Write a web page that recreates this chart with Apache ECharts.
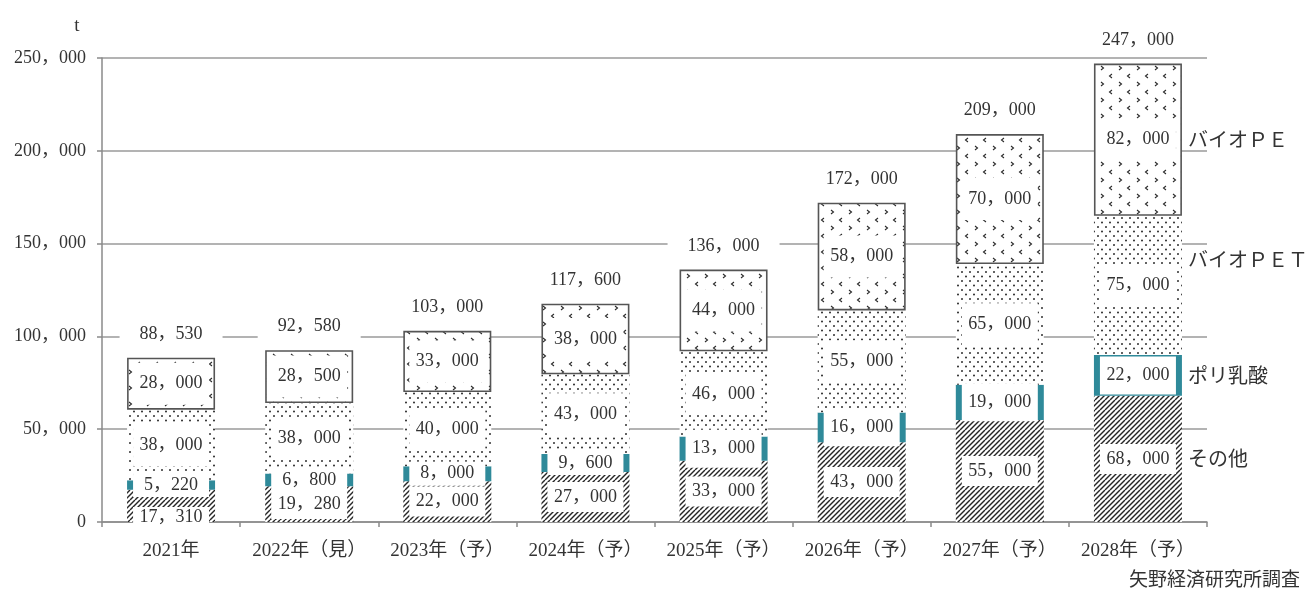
<!DOCTYPE html>
<html>
<head>
<meta charset="utf-8">
<script src="https://cdn.jsdelivr.net/npm/echarts@6/dist/echarts.min.js"></script>
<style>
  html, body { margin: 0; padding: 0; background: #fff; }
  #chart { width: 1309px; height: 594px; }
</style>
</head>
<body>
<div id="chart"></div>
<script>
// Bioplastics volume by type (t)
const categories = ['2021年', '2022年（見）', '2023年（予）', '2024年（予）', '2025年（予）', '2026年（予）', '2027年（予）', '2028年（予）'];
const otherVals = [17310, 19280, 22000, 27000, 33000, 43000, 55000, 68000];
const plaVals   = [5220, 6800, 8000, 9600, 13000, 16000, 19000, 22000];
const petVals   = [38000, 38000, 40000, 43000, 46000, 55000, 65000, 75000];
const peVals    = [28000, 28500, 33000, 38000, 44000, 58000, 70000, 82000];
const seriesNames = ['その他', 'ポリ乳酸', 'バイオＰＥＴ', 'バイオＰＥ'];
const unitLabel = 't';
const sourceText = '矢野経済研究所調査';

const totals = categories.map((_, i) => otherVals[i] + plaVals[i] + petVals[i] + peVals[i]);

const FONT = '"Liberation Serif", "Noto Sans CJK JP", serif';
const JFONT = '"Noto Sans CJK JP", sans-serif';
const INK = '#333';

function fmt(v) {
  const s = String(Math.round(v));
  return s.replace(/\B(?=(\d{3})+(?!\d))/g, '，');
}

// fill patterns
function tile(w, h, draw) {
  const c = document.createElement('canvas');
  c.width = w; c.height = h;
  const g = c.getContext('2d');
  g.fillStyle = '#fff';
  g.fillRect(0, 0, w, h);
  draw(g);
  return { image: c, repeat: 'repeat' };
}
const hatch = tile(10, 10, g => {
  g.strokeStyle = '#262626';
  g.lineWidth = 1.4;
  for (let k = -10; k <= 10; k += 5) {
    g.beginPath();
    g.moveTo(k, 10);
    g.lineTo(k + 10, 0);
    g.stroke();
  }
});
const dots = tile(8, 9, g => {
  g.fillStyle = '#222';
  [[2, 2], [6, 6.5]].forEach(([x, y]) => {
    g.beginPath(); g.arc(x, y, 0.95, 0, Math.PI * 2); g.fill();
  });
});
const chevrons = tile(18, 16, g => {
  g.strokeStyle = '#2a2a2a';
  g.lineWidth = 1.1;
  g.beginPath(); g.moveTo(3, 2); g.lineTo(5.5, 4); g.lineTo(3, 6); g.stroke();
  g.beginPath(); g.moveTo(14, 10); g.lineTo(11.5, 12); g.lineTo(14, 14); g.stroke();
});

const segLabel = (padV) => ({
  show: true,
  position: 'inside',
  formatter: p => fmt(p.value),
  color: INK,
  fontSize: 18,
  fontFamily: FONT,
  backgroundColor: '#fff',
  width: 76,
  align: 'center',
  lineHeight: 20,
  padding: [padV, 0]
});

const BAR_W = 88;

const chart = echarts.init(document.getElementById('chart'), null, { renderer: 'canvas' });

chart.setOption({
  animation: false,
  backgroundColor: '#fff',
  title: {
    text: sourceText,
    right: 4,
    bottom: 1,
    textStyle: { fontFamily: JFONT, fontSize: 19, fontWeight: 'normal', color: INK }
  },
  grid: { left: 102, right: 102, top: 58, bottom: 72 },
  xAxis: {
    type: 'category',
    data: categories,
    axisLine: { lineStyle: { color: '#8a8a8a', width: 1.5 } },
    axisTick: { show: true, length: 5, lineStyle: { color: '#8a8a8a', width: 1.5 } },
    axisLabel: { color: INK, fontSize: 19, fontFamily: FONT, margin: 20, interval: 0 }
  },
  yAxis: {
    type: 'value',
    min: 0,
    max: 250000,
    interval: 50000,
    name: unitLabel,
    nameLocation: 'end',
    nameGap: 22,
    nameTextStyle: { color: INK, fontSize: 19, fontFamily: FONT, padding: [0, 50, 0, 0] },
    axisLine: { show: true, lineStyle: { color: '#8a8a8a', width: 1.5 } },
    axisTick: { show: true, length: 5, lineStyle: { color: '#8a8a8a', width: 1.5 } },
    axisLabel: { color: INK, fontSize: 18, fontFamily: FONT, margin: 16, formatter: v => fmt(v) },
    splitLine: { lineStyle: { color: '#9a9a9a', width: 1.5 } }
  },
  series: [
    {
      name: seriesNames[0], type: 'bar', stack: 'total', barWidth: BAR_W,
      itemStyle: { color: hatch },
      label: segLabel(5),
      data: otherVals.map((v, i) => i === 0 ? { value: v, label: { offset: [0, 11], padding: [0, 0] } } : v)
    },
    {
      name: seriesNames[1], type: 'bar', stack: 'total', barWidth: BAR_W,
      itemStyle: { color: '#2f8a9a' },
      label: segLabel(9),
      // thin slices get a slimmer label box so the value below stays readable
      data: plaVals.map(v => v < 10000 ? { value: v, label: { padding: [2, 0] } } : v)
    },
    {
      name: seriesNames[2], type: 'bar', stack: 'total', barWidth: BAR_W,
      itemStyle: { color: dots },
      label: segLabel(11),
      data: petVals
    },
    {
      name: seriesNames[3], type: 'bar', stack: 'total', barWidth: BAR_W,
      itemStyle: { color: chevrons, borderColor: '#555', borderWidth: 1.6 },
      label: segLabel(11),
      data: peVals
    },
    {
      name: '合計', type: 'scatter',
      symbolSize: 1,
      itemStyle: { color: 'rgba(255,255,255,0)', opacity: 1 },
      label: {
        show: true, position: 'top', distance: 10,
        formatter: p => fmt(p.value),
        color: INK, opacity: 1, fontSize: 18, fontFamily: FONT,
        backgroundColor: '#fff', lineHeight: 18, padding: [4, 20]
      },
      data: totals,
      z: 5
    }
  ]
});

// series names beside the last bar
function sideLabels() {
  const last = categories.length - 1;
  const bounds = [];
  let acc = 0;
  [otherVals, plaVals, petVals, peVals].forEach(arr => {
    bounds.push([acc, acc + arr[last]]);
    acc += arr[last];
  });
  const shifts = [0, 0, -26, 0];
  const els = bounds.map((b, k) => {
    const pt = chart.convertToPixel({ gridIndex: 0 }, [last, (b[0] + b[1]) / 2]);
    return {
      type: 'text',
      x: pt[0] + BAR_W / 2 + 6,
      y: pt[1] + shifts[k],
      style: {
        text: seriesNames[k],
        fill: INK,
        font: '20px ' + JFONT,
        textAlign: 'left',
        textVerticalAlign: 'middle'
      },
      z: 10
    };
  });
  chart.setOption({ graphic: els });
}
sideLabels();
</script>
</body>
</html>
